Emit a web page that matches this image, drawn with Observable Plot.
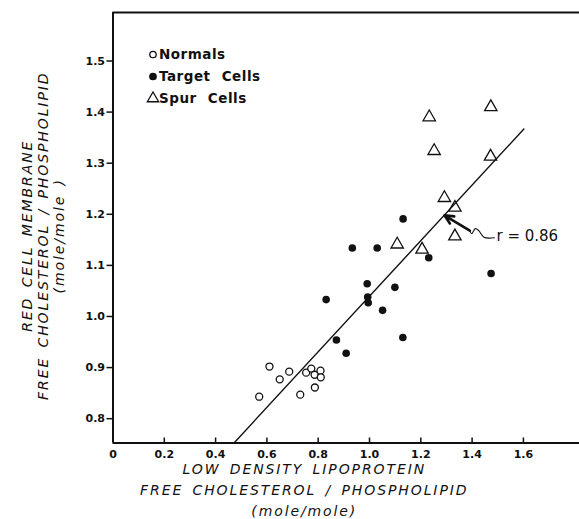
<!DOCTYPE html>
<html><head><meta charset="utf-8">
<script src="https://cdn.jsdelivr.net/npm/d3@7"></script>
<script src="https://cdn.jsdelivr.net/npm/@observablehq/plot@0.6"></script>
<style>
body{margin:0;background:#fff}
#chart svg{display:block}
</style>
</head><body><div id="chart"></div>
<script>
// Normals (open circles)
const normalsX = [0.570, 0.610, 0.650, 0.687, 0.730, 0.753, 0.773, 0.786, 0.787, 0.809, 0.810];
const normalsY = [0.843, 0.902, 0.877, 0.892, 0.847, 0.890, 0.898, 0.886, 0.861, 0.894, 0.881];
// Target cells (filled circles)
const targetX = [0.831, 0.871, 0.909, 0.933, 0.991, 0.993, 0.995, 1.030, 1.051, 1.099, 1.131, 1.130, 1.231, 1.474];
const targetY = [1.033, 0.954, 0.928, 1.134, 1.064, 1.038, 1.027, 1.134, 1.012, 1.057, 1.191, 0.959, 1.115, 1.084];
// Spur cells (open triangles)
const spurX = [1.108, 1.205, 1.233, 1.252, 1.292, 1.333, 1.333, 1.473, 1.472];
const spurY = [1.141, 1.131, 1.390, 1.324, 1.232, 1.213, 1.157, 1.410, 1.313];
// regression line end points
const fitX = [0.471, 1.602];
const fitY = [0.752, 1.367];
// annotation leader (tip on the line -> label)
const leaderX = [1.292, 1.391, 1.398, 1.413, 1.426, 1.446, 1.487];
const leaderY = [1.198, 1.168, 1.162, 1.172, 1.168, 1.155, 1.154];
const annotText = "r = 0.86";
const annotX = 1.495, annotY = 1.158;
// axes
const xTicks = [0, 0.2, 0.4, 0.6, 0.8, 1.0, 1.2, 1.4, 1.6];
const xTickLabels = ["0", "0.2", "0.4", "0.6", "0.8", "1.0", "1.2", "1.4", "1.6"];
const yTicks = [0.8, 0.9, 1.0, 1.1, 1.2, 1.3, 1.4, 1.5];
const yTickLabels = ["0.8", "0.9", "1.0", "1.1", "1.2", "1.3", "1.4", "1.5"];
const xDomain = [0, 1.8187];
const yDomain = [0.7524, 1.5949];
const xLabel = "LOW DENSITY LIPOPROTEIN\nFREE CHOLESTEROL / PHOSPHOLIPID\n(mole/mole)";
const yLabel = "RED CELL MEMBRANE\nFREE CHOLESTEROL / PHOSPHOLIPID\n(mole/mole )";
// legend
const legendLabels = ["Normals", "Target Cells", "Spur Cells"];
const legendSymbols = ["circle", "circle", "triangle"];
const legendFills = ["none", "#111", "none"];

const normals = normalsX.map((x, i) => ({x, y: normalsY[i]}));
const targets = targetX.map((x, i) => ({x, y: targetY[i]}));
const spurs = spurX.map((x, i) => ({x, y: spurY[i]}));
const fit = fitX.map((x, i) => ({x, y: fitY[i]}));
const leader = leaderX.map((x, i) => ({x, y: leaderY[i]}));

const W = 579, H = 519, mL = 112.5, mT = 12, mB = 76.5;
const frameH = H - mT - mB;

const legendMarks = legendLabels.flatMap((lab, i) => [
  Plot.dot([lab], {frameAnchor: "top-left", dx: 40, dy: 42 + 22 * i, symbol: legendSymbols[i],
    r: legendSymbols[i] === "triangle" ? 4.2 : 3.2, stroke: "#111", strokeWidth: 1.3, fill: legendFills[i]}),
  Plot.text([lab], {frameAnchor: "top-left", dx: 46, dy: 42 + 22 * i, text: d => d, textAnchor: "start",
    lineAnchor: "middle", fontSize: 13.5, fontWeight: "bold", fill: "#111"})
]);

const chart = Plot.plot({
  width: W, height: H,
  marginLeft: mL, marginRight: 0, marginTop: mT, marginBottom: mB,
  x: {domain: xDomain, label: null},
  y: {domain: yDomain, label: null},
  style: {fontFamily: "DejaVu Sans", fontSize: "12px", color: "#111", background: "white"},
  marks: [
    Plot.ruleX([xDomain[0]], {stroke: "#111", strokeWidth: 2}),
    Plot.ruleY([yDomain[1]], {stroke: "#111", strokeWidth: 2}),
    Plot.ruleY([yDomain[0]], {stroke: "#111", strokeWidth: 2}),
    Plot.axisY({ticks: yTicks, tickSize: 6, tickPadding: 2, strokeWidth: 1.5, fontSize: 11, fontWeight: "bold",
      tickFormat: d => yTickLabels[yTicks.indexOf(d)], label: null}),
    Plot.axisX({ticks: xTicks, tickSize: 0, tickPadding: 7, fontSize: 11, fontWeight: "bold",
      tickFormat: d => xTickLabels[xTicks.indexOf(d)], label: null}),
    Plot.ruleX(xTicks.slice(1), {insetTop: frameH - 5, stroke: "#111", strokeWidth: 1.5}),
    Plot.line(fit, {x: "x", y: "y", stroke: "#111", strokeWidth: 1.4}),
    Plot.dot(normals, {x: "x", y: "y", r: 3.5, stroke: "#111", strokeWidth: 1.3, fill: "white"}),
    Plot.dot(targets, {x: "x", y: "y", r: 3.8, fill: "#111", stroke: "none"}),
    Plot.dot(spurs, {x: "x", y: "y", symbol: "triangle", r: 4.6, stroke: "#111", strokeWidth: 1.3, fill: "none"}),
    Plot.line(leader.slice(1), {x: "x", y: "y", curve: "catmull-rom", stroke: "#111", strokeWidth: 1.1}),
    Plot.arrow([{a: leader[1], b: leader[0]}], {x1: d => d.a.x, y1: d => d.a.y, x2: d => d.b.x, y2: d => d.b.y,
      stroke: "#111", strokeWidth: 2.6, headLength: 7, headAngle: 50}),
    Plot.text([annotText], {x: annotX, y: annotY, text: d => d, textAnchor: "start", fontSize: 15, fill: "#111"}),
    ...legendMarks,
    Plot.text([xLabel], {frameAnchor: "bottom", dx: -42, dy: 45.5, text: d => d, fontSize: 14,
      textAnchor: "middle", lineAnchor: "middle",
      fontStyle: "italic", lineHeight: 1.5, fill: "#111"}),
    Plot.text([yLabel], {frameAnchor: "left", dx: -70.5, dy: 8, rotate: -90, text: d => d, fontSize: 14,
      textAnchor: "middle", lineAnchor: "middle",
      fontStyle: "italic", lineHeight: 1.14, fill: "#111"})
  ]
});
// spacing styles for the axis titles and legend text
d3.select(chart).selectAll("text").each(function () {
  const t = this.textContent;
  if (t.includes("CHOLESTEROL")) {
    this.style.letterSpacing = "1.9px";
    this.style.wordSpacing = "3px";
  } else if (legendLabels.includes(t)) {
    this.style.letterSpacing = "0.5px";
    this.style.wordSpacing = "6px";
  }
});
document.getElementById("chart").appendChild(chart);
</script>
</body></html>
